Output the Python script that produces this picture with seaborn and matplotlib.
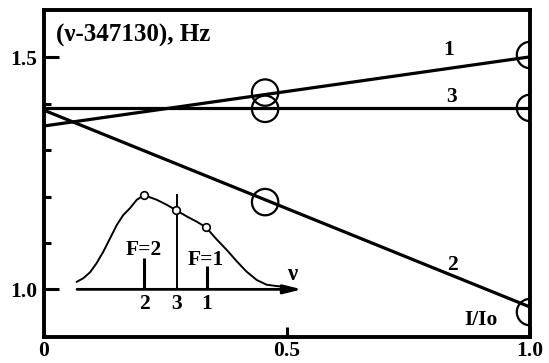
import matplotlib
matplotlib.use("Agg")
import matplotlib.pyplot as plt
import seaborn as sns
import pandas as pd

# ---- data ----
line_x = [0.0, 1.0]
line1_y = [1.352, 1.501]
line2_y = [1.386, 0.962]
line3_y = [1.391, 1.391]

circ_x = [0.455, 0.455, 0.455, 1.0, 1.0, 1.0]
circ_y = [1.424, 1.389, 1.188, 1.505, 1.391, 0.951]

# inset spectral profile
prof_x = [0.067, 0.081, 0.095, 0.108, 0.122, 0.136, 0.150, 0.163, 0.177, 0.191,
          0.206, 0.232, 0.253, 0.271, 0.294, 0.314, 0.333, 0.355, 0.376, 0.397,
          0.417, 0.438, 0.458, 0.479, 0.502]
prof_y = [1.016, 1.024, 1.037, 1.056, 1.081, 1.110, 1.139, 1.160, 1.175, 1.193,
          1.203, 1.193, 1.182, 1.171, 1.157, 1.146, 1.134, 1.108, 1.085, 1.060,
          1.038, 1.020, 1.010, 1.007, 1.005]
prof_mark_x = [0.206, 0.271, 0.333]
prof_mark_y = [1.203, 1.171, 1.134]

stick_x = [0.206, 0.273, 0.335]
stick_top = [1.068, 1.205, 1.050]
stick_labels = ["2", "3", "1"]
f_labels = ["F=2", "F=1"]

x_ticks = [0.0, 0.5, 1.0]
x_ticklabels = ["0", "0.5", "1.0"]
y_major = [1.0, 1.5]
y_major_labels = ["1.0", "1.5"]
y_minor = [1.1, 1.2, 1.3, 1.4]

# ---- figure ----
sns.set_style("ticks")
plt.rcParams['font.family'] = ['Liberation Serif', 'DejaVu Serif']
plt.rcParams['font.weight'] = 'bold'
plt.rcParams['text.color'] = 'black'
plt.rcParams['axes.edgecolor'] = 'black'
plt.rcParams['xtick.color'] = 'black'
plt.rcParams['ytick.color'] = 'black'
plt.rcParams['axes.labelcolor'] = 'black'

fig = plt.figure(figsize=(5.49, 3.63), dpi=100)
ax = fig.add_axes([0.0801, 0.0725, 0.9654 - 0.0801, 0.9725 - 0.0725])

df = pd.DataFrame({
    "x": line_x * 3,
    "y": line1_y + line2_y + line3_y,
    "line": ["1"] * 2 + ["2"] * 2 + ["3"] * 2,
})
sns.lineplot(data=df, x="x", y="y", units="line", estimator=None,
             color="black", lw=2.3, ax=ax, legend=False)

sns.scatterplot(x=circ_x, y=circ_y, ax=ax, s=19**2, marker="o",
                facecolors="none", edgecolor="black", linewidth=1.6,
                legend=False, zorder=5)

# inset profile
sns.lineplot(x=prof_x, y=prof_y, ax=ax, color="black", lw=1.4, sort=False,
             estimator=None, legend=False)
sns.scatterplot(x=prof_mark_x, y=prof_mark_y, ax=ax, s=30, marker="o",
                facecolor="white", edgecolor="black", linewidth=1.2,
                legend=False, zorder=6)

# baseline with arrow
ax.annotate("", xy=(0.531, 1.0), xytext=(0.068, 1.0),
            arrowprops=dict(arrowstyle="-|>,head_length=0.9,head_width=0.22",
                            lw=2.0, color="black", shrinkA=0, shrinkB=0,
                            mutation_scale=12))

# sticks
ax.vlines(stick_x[0], 1.0, stick_top[0], color="black", lw=2.2)
ax.vlines(stick_x[1], 1.0, stick_top[1], color="black", lw=1.4)
ax.vlines(stick_x[2], 1.0, stick_top[2], color="black", lw=2.2)

fs = 15.5
for sx, lab in zip(stick_x, stick_labels):
    ax.text(sx, 0.969, lab, ha="center", va="center", fontsize=fs, fontweight="bold")
ax.text(0.206, 1.0845, f_labels[0], ha="center", va="center", fontsize=fs, fontweight="bold")
ax.text(0.333, 1.064, f_labels[1], ha="center", va="center", fontsize=fs, fontweight="bold")
ax.text(0.510, 1.033, "ν", ha="center", va="center", fontsize=fs + 1, fontweight="bold")

# line labels
ax.text(0.833, 1.516, "1", ha="center", va="center", fontsize=fs, fontweight="bold")
ax.text(0.839, 1.415, "3", ha="center", va="center", fontsize=fs, fontweight="bold")
ax.text(0.841, 1.052, "2", ha="center", va="center", fontsize=fs, fontweight="bold")
ax.text(0.900, 0.935, "I/Io", ha="center", va="center", fontsize=fs, fontweight="bold")

# title in axes
ax.text(0.024, 1.548, "(ν-347130), Hz", ha="left", va="center", fontsize=18,
        fontweight="bold")

ax.set_xlim(0, 1.0)
ax.set_ylim(0.898, 1.602)
ax.set_xlabel("")
ax.set_ylabel("")

ax.set_xticks(x_ticks)
ax.set_xticklabels(x_ticklabels, fontsize=fs, fontweight="bold")
ax.set_yticks(y_major)
ax.set_yticklabels(y_major_labels, fontsize=fs, fontweight="bold")
ax.set_yticks(y_minor, minor=True)
ax.tick_params(axis="y", which="major", direction="in", length=11, width=2.2, pad=5)
ax.tick_params(axis="y", which="minor", direction="in", length=5, width=2.2)
ax.tick_params(axis="x", which="major", direction="in", length=7, width=2.2, pad=3)

for sp in ax.spines.values():
    sp.set_linewidth(2.8)
    sp.set_visible(True)
    sp.set_zorder(10)

fig.savefig("out.png", dpi=100)
